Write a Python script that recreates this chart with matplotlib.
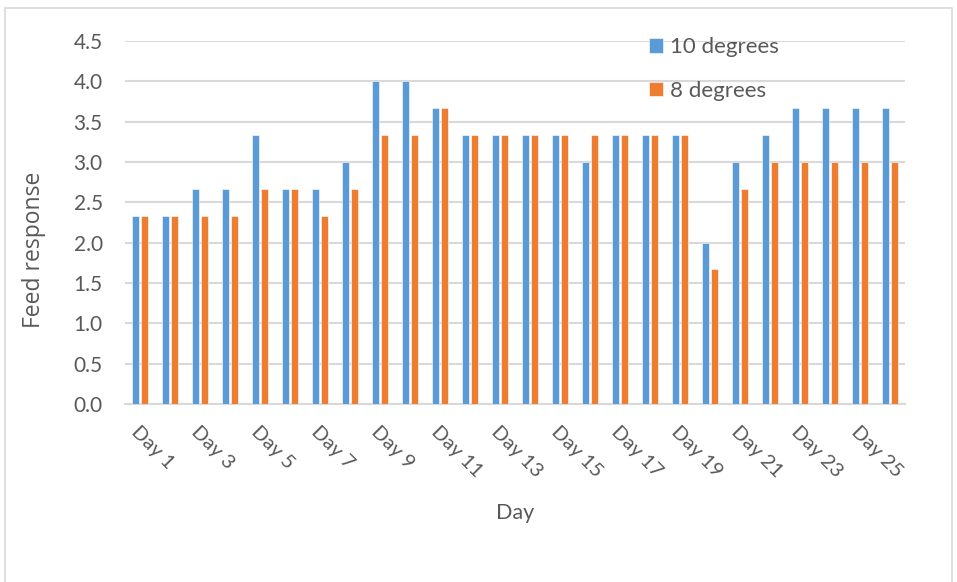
import matplotlib
matplotlib.use("Agg")
import matplotlib.pyplot as plt
import numpy as np
from matplotlib.patches import Rectangle

plt.rcParams['font.family'] = ['Lato', 'DejaVu Sans']

days = [f"Day {i}" for i in range(1, 27)]
ten_degrees = [2.33, 2.33, 2.67, 2.67, 3.33, 2.67, 2.67, 3.0, 4.0, 4.0, 3.67, 3.33, 3.33,
               3.33, 3.33, 3.0, 3.33, 3.33, 3.33, 2.0, 3.0, 3.33, 3.67, 3.67, 3.67, 3.67]
eight_degrees = [2.33, 2.33, 2.33, 2.33, 2.67, 2.67, 2.33, 2.67, 3.33, 3.33, 3.67, 3.33, 3.33,
                 3.33, 3.33, 3.33, 3.33, 3.33, 3.33, 1.67, 2.67, 3.0, 3.0, 3.0, 3.0, 3.0]
y_ticks = [0.0, 0.5, 1.0, 1.5, 2.0, 2.5, 3.0, 3.5, 4.0, 4.5]

blue = '#5b9bd5'
orange = '#ed7d31'
grid = '#d9d9d9'
text_col = '#595959'

fig = plt.figure(figsize=(9.57, 5.82), dpi=100)
ax = fig.add_axes([125/957, 1 - 404/582, (905-125)/957, (404-41)/582])

x = np.arange(len(days))
w = 0.23
ax.bar(x - 0.15, ten_degrees, w, color=blue, edgecolor='white', linewidth=0.4,
       label='10 degrees', zorder=3)
ax.bar(x + 0.15, eight_degrees, w, color=orange, edgecolor='white', linewidth=0.4,
       label='8 degrees', zorder=3)

ax.set_xlim(-0.5, len(days) - 0.5)
ax.set_ylim(0, 4.5)
ax.set_yticks(y_ticks)
ax.set_yticklabels([f"{v:.1f}" for v in y_ticks], fontsize=15, color=text_col)
ax.yaxis.grid(True, color=grid, linewidth=1.5, zorder=0)
ax.set_axisbelow(True)
for s in ['top', 'right', 'left']:
    ax.spines[s].set_visible(False)
ax.spines['bottom'].set_color(grid)
ax.spines['bottom'].set_linewidth(1.5)
ax.tick_params(axis='both', length=0)
ax.tick_params(axis='y', pad=16)

ax.set_xticks(x[::2])
ax.set_xticklabels(days[::2], rotation=-45, ha='left', va='top',
                   rotation_mode='anchor', fontsize=14.5, color=text_col)
ax.tick_params(axis='x', pad=14)

ax.set_xlabel('Day', fontsize=15.5, color=text_col, labelpad=16)
ax.set_ylabel('Feed response', fontsize=16.5, color=text_col,
              family=['Open Sans', 'DejaVu Sans'])
ax.yaxis.set_label_coords(-0.101, 0.424)

leg = ax.legend(loc='upper left', bbox_to_anchor=((629-125)/780, 1.065), frameon=False,
                fontsize=16, handlelength=0.65, handleheight=0.65, handletextpad=0.3,
                labelspacing=1.05, labelcolor=text_col)

fig.patches.append(Rectangle((5/957, -0.05), (952-5)/957, 1.05 - 8/582,
                             transform=fig.transFigure, fill=False,
                             edgecolor='#d9d9d9', linewidth=1.2))

fig.savefig('out.png', dpi=100)
